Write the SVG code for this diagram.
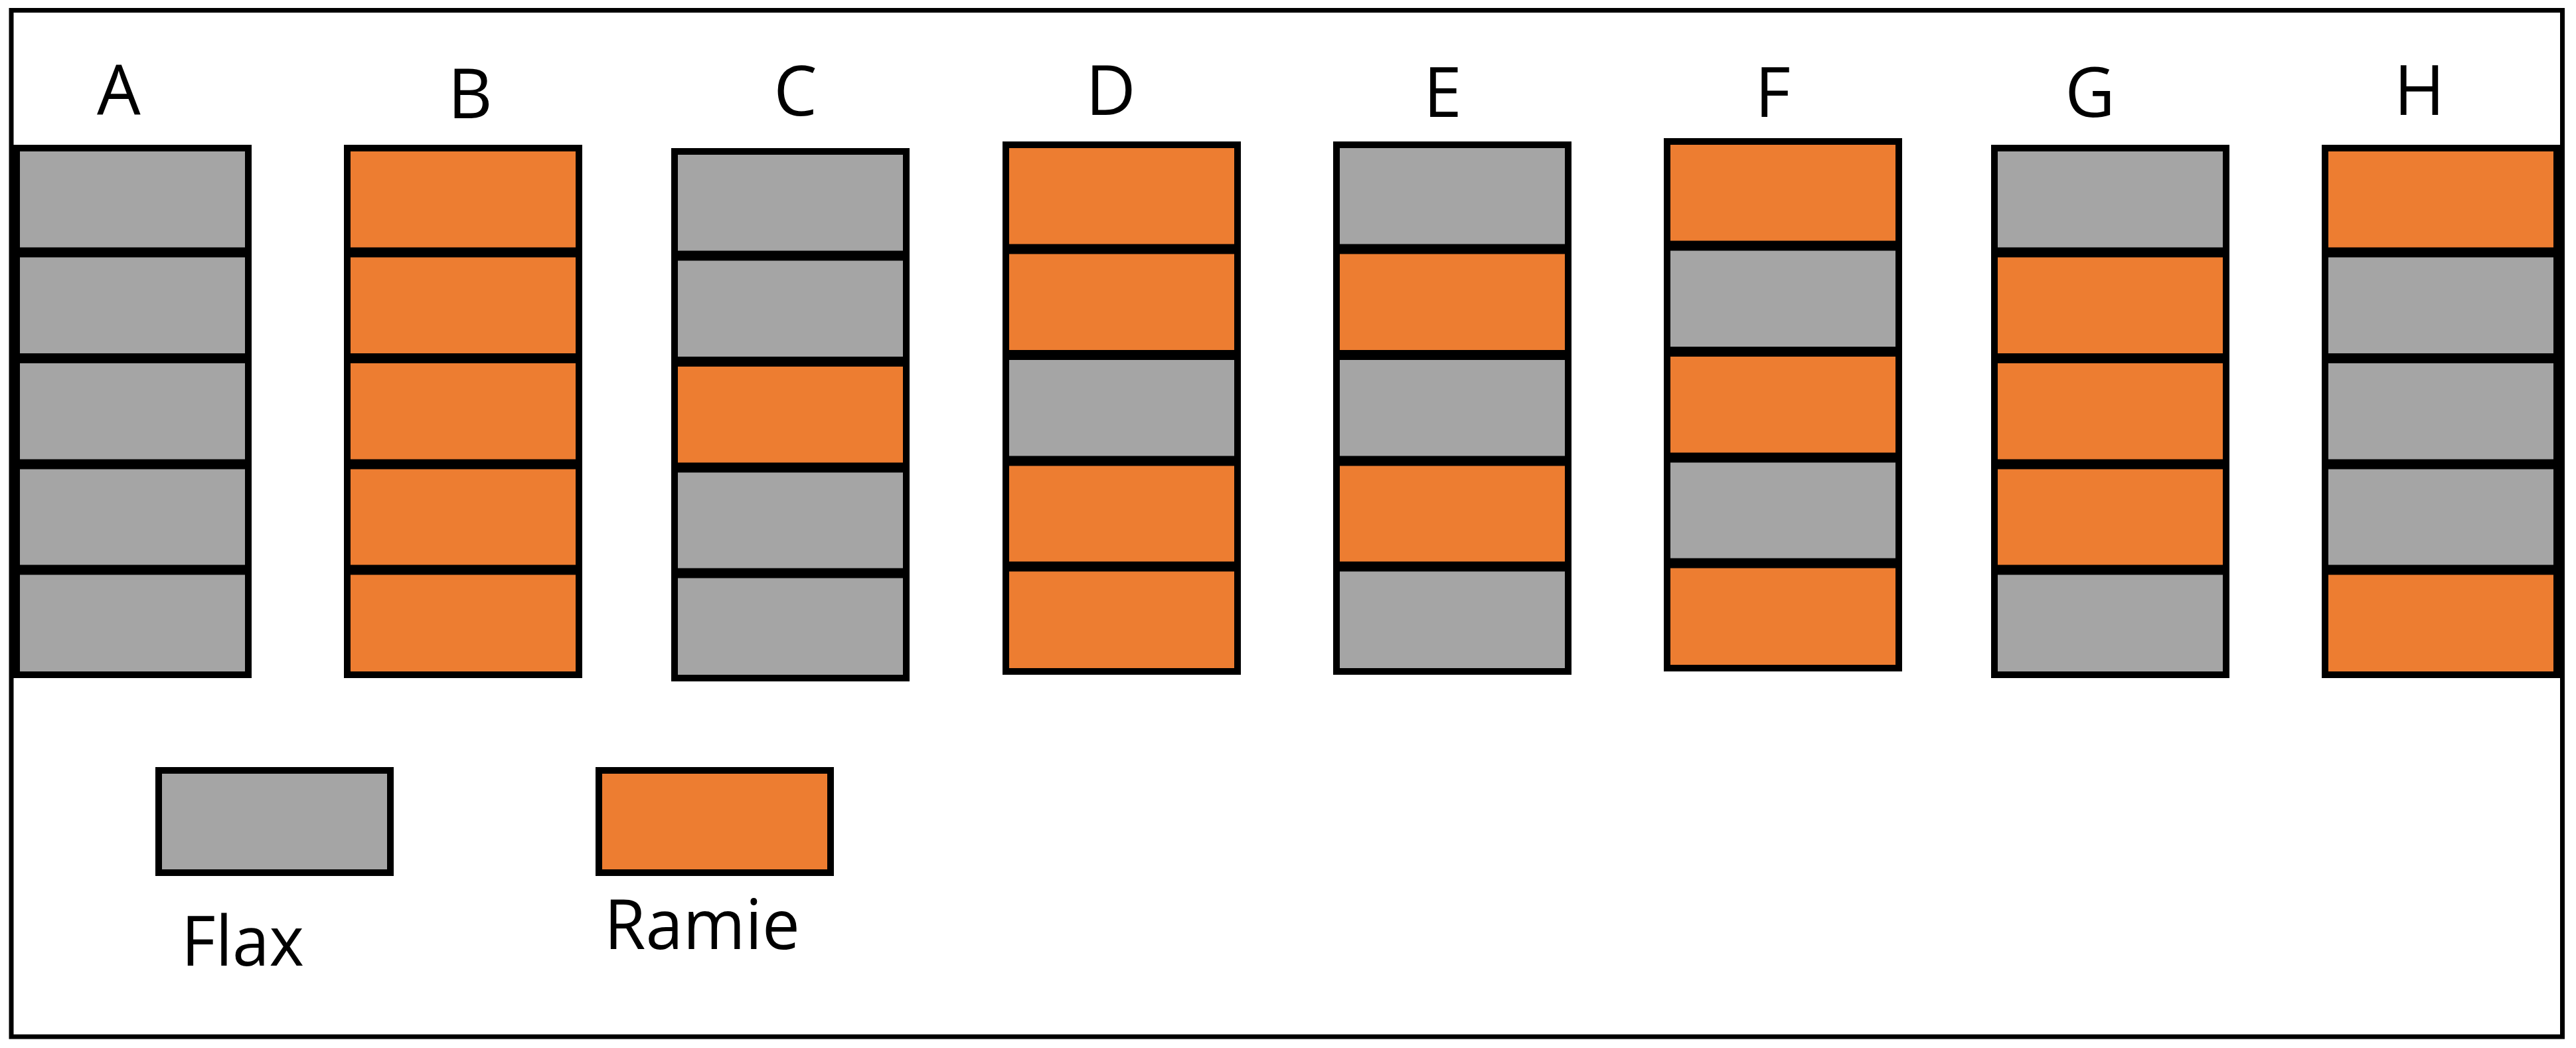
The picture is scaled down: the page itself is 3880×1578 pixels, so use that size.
<svg xmlns="http://www.w3.org/2000/svg" width="3880" height="1578" viewBox="0 0 3880 1578">
<style>
.g{fill:#A5A5A5}
.o{fill:#ED7D31}
.dv{stroke:#000;stroke-width:15}
.ol{fill:none;stroke:#000;stroke-width:10}
.lb{font-family:"Open Sans","Liberation Sans",sans-serif;font-size:104px;fill:#000;text-anchor:middle}
.lg{font-family:"Open Sans","Liberation Sans",sans-serif;font-size:104px;fill:#000}
</style>
<defs>
<g id="grid">
<line class="dv" x1="5" y1="380" x2="354" y2="380"/>
<line class="dv" x1="5" y1="539.5" x2="354" y2="539.5"/>
<line class="dv" x1="5" y1="699" x2="354" y2="699"/>
<line class="dv" x1="5" y1="858" x2="354" y2="858"/>
<rect class="ol" x="5" y="223" width="349" height="793"/>
</g>
</defs>
<rect x="0" y="0" width="3880" height="1578" fill="#fff"/>
<rect x="17" y="15.5" width="3842.5" height="1545.5" fill="none" stroke="#000" stroke-width="7"/>

<g id="col-A" transform="translate(20,0)">
<rect class="g" x="5" y="223" width="349" height="157"/>
<rect class="g" x="5" y="380" width="349" height="159.5"/>
<rect class="g" x="5" y="539.5" width="349" height="159.5"/>
<rect class="g" x="5" y="699" width="349" height="159"/>
<rect class="g" x="5" y="858" width="349" height="158"/>
<use href="#grid"/>
</g>
<g id="col-B" transform="translate(518,0)">
<rect class="o" x="5" y="223" width="349" height="157"/>
<rect class="o" x="5" y="380" width="349" height="159.5"/>
<rect class="o" x="5" y="539.5" width="349" height="159.5"/>
<rect class="o" x="5" y="699" width="349" height="159"/>
<rect class="o" x="5" y="858" width="349" height="158"/>
<use href="#grid"/>
</g>
<g id="col-C" transform="translate(1011,5)">
<rect class="g" x="5" y="223" width="349" height="157"/>
<rect class="g" x="5" y="380" width="349" height="159.5"/>
<rect class="o" x="5" y="539.5" width="349" height="159.5"/>
<rect class="g" x="5" y="699" width="349" height="159"/>
<rect class="g" x="5" y="858" width="349" height="158"/>
<use href="#grid"/>
</g>
<g id="col-D" transform="translate(1510,-5)">
<rect class="o" x="5" y="223" width="349" height="157"/>
<rect class="o" x="5" y="380" width="349" height="159.5"/>
<rect class="g" x="5" y="539.5" width="349" height="159.5"/>
<rect class="o" x="5" y="699" width="349" height="159"/>
<rect class="o" x="5" y="858" width="349" height="158"/>
<use href="#grid"/>
</g>
<g id="col-E" transform="translate(2008,-5)">
<rect class="g" x="5" y="223" width="349" height="157"/>
<rect class="o" x="5" y="380" width="349" height="159.5"/>
<rect class="g" x="5" y="539.5" width="349" height="159.5"/>
<rect class="o" x="5" y="699" width="349" height="159"/>
<rect class="g" x="5" y="858" width="349" height="158"/>
<use href="#grid"/>
</g>
<g id="col-F" transform="translate(2506,-10)">
<rect class="o" x="5" y="223" width="349" height="157"/>
<rect class="g" x="5" y="380" width="349" height="159.5"/>
<rect class="o" x="5" y="539.5" width="349" height="159.5"/>
<rect class="g" x="5" y="699" width="349" height="159"/>
<rect class="o" x="5" y="858" width="349" height="158"/>
<use href="#grid"/>
</g>
<g id="col-G" transform="translate(2999,0)">
<rect class="g" x="5" y="223" width="349" height="157"/>
<rect class="o" x="5" y="380" width="349" height="159.5"/>
<rect class="o" x="5" y="539.5" width="349" height="159.5"/>
<rect class="o" x="5" y="699" width="349" height="159"/>
<rect class="g" x="5" y="858" width="349" height="158"/>
<use href="#grid"/>
</g>
<g id="col-H" transform="translate(3497,0)">
<rect class="o" x="5" y="223" width="349" height="157"/>
<rect class="g" x="5" y="380" width="349" height="159.5"/>
<rect class="g" x="5" y="539.5" width="349" height="159.5"/>
<rect class="g" x="5" y="699" width="349" height="159"/>
<rect class="o" x="5" y="858" width="349" height="158"/>
<use href="#grid"/>
</g>

<g id="labels">
<text class="lb" x="179" y="173">A</text>
<text class="lb" x="708" y="178">B</text>
<text class="lb" x="1198" y="174">C</text>
<text class="lb" x="1673" y="173">D</text>
<text class="lb" x="2173" y="176">E</text>
<text class="lb" x="2670" y="176">F</text>
<text class="lb" x="3148" y="176">G</text>
<text class="lb" x="3644" y="173">H</text>
</g>

<g id="legend-flax">
<rect x="239" y="1160" width="349" height="154" fill="#A5A5A5" stroke="#000" stroke-width="10"/>
<text class="lg" x="273" y="1454" textLength="185" lengthAdjust="spacingAndGlyphs">Flax</text>
</g>
<g id="legend-ramie">
<rect x="902" y="1160" width="349" height="154" fill="#ED7D31" stroke="#000" stroke-width="10"/>
<text class="lg" x="910" y="1429" textLength="295" lengthAdjust="spacingAndGlyphs">Ramie</text>
</g>
</svg>
